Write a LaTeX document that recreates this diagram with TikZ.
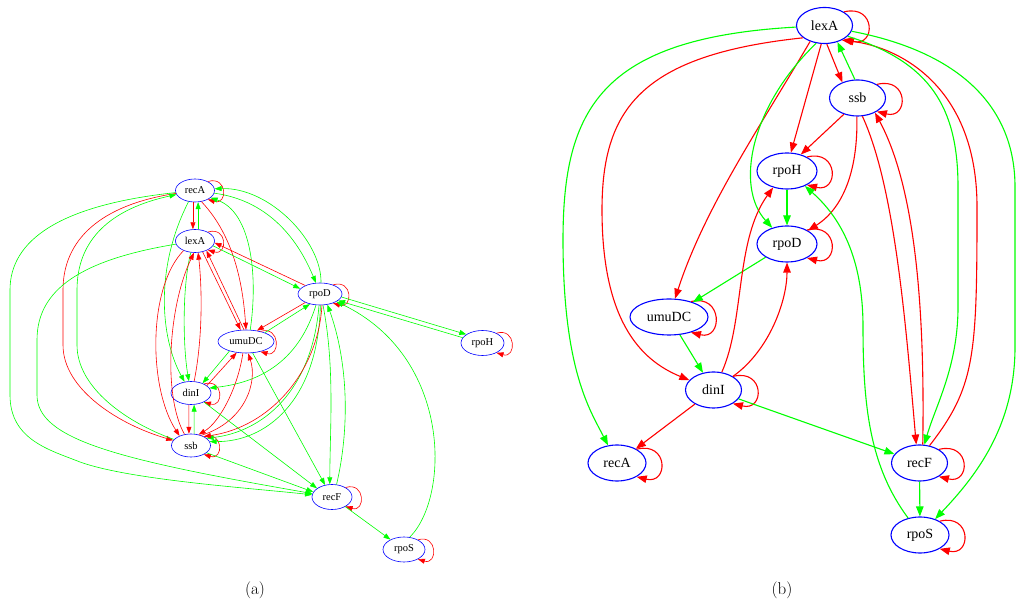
\documentclass[tikz,border=0pt]{standalone}
\usepackage{fontspec}
\newfontfamily\genefont{Liberation Serif}
\usetikzlibrary{shapes.geometric,arrows.meta}
\definecolor{actgreen}{RGB}{0,255,0}
\definecolor{repred}{RGB}{255,0,0}
\definecolor{nodeblue}{RGB}{0,0,255}
\tikzset{
  gena/.style={ellipse,draw=nodeblue,line width=0.6pt,inner sep=0pt,minimum width=39pt,minimum height=23pt,font=\fontsize{10.5}{12}\genefont},
  genb/.style={ellipse,draw=nodeblue,line width=1.1pt,inner sep=0pt,minimum width=56pt,minimum height=36pt,font=\fontsize{14}{16}\genefont},
  grna/.style={draw=actgreen,line width=0.6pt,-{Triangle[length=7pt,width=5pt]}},
  reda/.style={draw=repred,line width=0.6pt,-{Triangle[length=7pt,width=5pt]}},
  grnb/.style={draw=actgreen,line width=1.1pt,-{Triangle[length=10pt,width=7.5pt]}},
  redb/.style={draw=repred,line width=1.1pt,-{Triangle[length=10pt,width=7.5pt]}}
}
\begin{document}
\begin{tikzpicture}[x=1pt,y=1pt]
\useasboundingbox (0,0) rectangle (1024,607);
\node[gena] (recAa) at (195,416.5) {recA};
\node[gena] (lexAa) at (195,366) {lexA};
\node[gena,minimum width=44pt,minimum height=22pt] (rpoDa) at (320,313) {rpoD};
\node[gena,minimum width=56pt] (umuDCa) at (246,265.5) {umuDC};
\node[gena,minimum width=43pt,minimum height=25pt] (rpoHa) at (482.5,264) {rpoH};
\node[gena,minimum width=40pt] (dinIa) at (191,214) {dinI};
\node[gena] (ssba) at (191,161.5) {ssb};
\node[gena,minimum width=40pt,minimum height=25pt] (recFa) at (332,110) {recF};
\node[gena,minimum width=42pt,minimum height=25pt] (rpoSa) at (404,57.5) {rpoS};
\foreach \g in {recAa,lexAa,rpoDa,umuDCa,rpoHa,dinIa,ssba,recFa,rpoSa}
  \draw[reda] (\g.35) .. controls +(20,6) and +(20,-6) .. (\g.-35);
\draw[reda] (recAa.-100) -- (lexAa.100);
\draw[grna] (lexAa.75) -- (recAa.-75);
\draw[reda] (recAa) .. controls (100,402) and (63,367) .. (63,317) -- (63,262)
  .. controls (63,217) and (120,182) .. (ssba);
\draw[grna] (ssba) .. controls (125,185) and (77,220) .. (77,262) -- (77,317)
  .. controls (77,367) and (110,398) .. (recAa);
\draw[grna] (recAa) .. controls (60,402) and (10,367) .. (10,317) -- (10,212)
  .. controls (10,167) and (50,157) .. (80,145) .. controls (130,127) and (250,119) .. (recFa);
\draw[grna] (lexAa) .. controls (80,347) and (37,317) .. (37,267) -- (37,212)
  .. controls (37,167) and (120,147) .. (recFa);
\draw[grna] (recAa.-120) .. controls (155,340) and (160,270) .. (dinIa.120);
\draw[grna] (lexAa.-110) .. controls (182,320) and (183,260) .. (dinIa.100);
\draw[reda] (dinIa.75) .. controls (203,270) and (202,320) .. (lexAa.-75);
\draw[reda] (lexAa.-140) .. controls (148,320) and (148,220) .. (ssba.140);
\draw[reda] (ssba.120) .. controls (163,210) and (168,300) .. (lexAa.-95);
\draw[reda] (lexAa.-55) -- (umuDCa.115);
\draw[reda] (umuDCa.100) -- (lexAa.-40);
\draw[reda] (recAa.-60) .. controls (235,370) and (243,320) .. (umuDCa.90);
\draw[grna] (umuDCa.70) .. controls (258,330) and (252,395) .. (recAa.-25);
\draw[grna] (recAa.-8) .. controls (280,405) and (305,350) .. (rpoDa.110);
\draw[grna] (rpoDa.85) .. controls (322,365) and (270,420) .. (recAa.5);
\draw[grna] (lexAa.-15) -- (rpoDa.165);
\draw[reda] (rpoDa.150) -- (lexAa.-5);
\draw[reda] (rpoDa.-150) -- (umuDCa.45);
\draw[grna] (umuDCa.25) -- (rpoDa.-135);
\draw[grna] (rpoDa.-8) -- (rpoHa.152);
\draw[grna] (rpoHa.165) -- (rpoDa.-20);
\draw[grna] (rpoDa.-110) .. controls (300,250) and (265,225) .. (dinIa.15);
\draw[grna] (rpoDa.-95) .. controls (312,215) and (262,175) .. (ssba.25);
\draw[grna] (rpoDa.-88) .. controls (318,205) and (265,165) .. (ssba.12);
\draw[reda] (rpoDa.-80) .. controls (318,235) and (270,180) .. (ssba.35);
\draw[grna] (umuDCa.-150) -- (dinIa.40);
\draw[reda] (dinIa.25) -- (umuDCa.-130);
\draw[reda] (umuDCa.-105) .. controls (238,220) and (220,185) .. (ssba.55);
\draw[reda] (ssba.45) .. controls (245,185) and (258,225) .. (umuDCa.-80);
\draw[grna] (umuDCa.-60) -- (recFa.120);
\draw[reda] (dinIa.-100) -- (ssba.100);
\draw[grna] (ssba.75) -- (dinIa.-75);
\draw[grna] (dinIa.-35) -- (recFa.150);
\draw[grna] (ssba.-25) -- (recFa.165);
\draw[grna] (rpoDa.-75) .. controls (335,240) and (330,180) .. (recFa.100);
\draw[grna] (recFa.70) .. controls (350,180) and (348,245) .. (rpoDa.-55);
\draw[grna] (recFa) -- (rpoSa);
\draw[grna] (rpoSa.65) .. controls (450,110) and (452,250) .. (rpoDa.-25);
\node[genb] (lexAb) at (824.5,581.5) {lexA};
\node[genb] (ssbb) at (857.5,509) {ssb};
\node[genb,minimum width=60pt] (rpoHb) at (787,436) {rpoH};
\node[genb,minimum width=60pt] (rpoDb) at (787,363) {rpoD};
\node[genb,minimum width=78pt] (umuDCb) at (669,290) {umuDC};
\node[genb] (dinIb) at (713.5,217) {dinI};
\node[genb,minimum width=58pt] (recAb) at (617,144) {recA};
\node[genb] (recFb) at (919.5,144) {recF};
\node[genb,minimum width=58pt] (rpoSb) at (920,72) {rpoS};
\foreach \g in {lexAb,ssbb,rpoHb,rpoDb,umuDCb,dinIb,recAb,recFb,rpoSb}
  \draw[redb] (\g.35) .. controls +(32,8) and +(32,-8) .. (\g.-35);
\draw[grnb] (lexAb) .. controls (600,569) and (563,497) .. (563,367)
  .. controls (563,237) and (590,197) .. (recAb);
\draw[redb] (lexAb.-150) .. controls (640,552) and (602,497) .. (602,397)
  .. controls (602,287) and (640,247) .. (dinIb);
\draw[redb] (lexAb.-132) .. controls (760,480) and (705,400) .. (umuDCb);
\draw[grnb] (lexAb.-115) .. controls (750,500) and (735,420) .. (rpoDb);
\draw[redb] (lexAb.-100) -- (rpoHb.78);
\draw[redb] (lexAb.-83) -- (ssbb.134);
\draw[grnb] (ssbb.98) -- (lexAb.-52);
\draw[redb] (ssbb.-130) -- (rpoHb.50);
\draw[redb] (ssbb.-92) .. controls (858,440) and (845,400) .. (rpoDb);
\draw[redb] (ssbb.-75) .. controls (895,420) and (906,280) .. (recFb.100);
\draw[redb] (recFb.80) .. controls (925,300) and (915,420) .. (ssbb.-40);
\draw[redb] (recFb.60) .. controls (975,220) and (977,250) .. (977,400)
  .. controls (977,520) and (900,560) .. (lexAb.-40);
\draw[grnb] (lexAb.-25) .. controls (930,545) and (958,500) .. (958,420) -- (958,300)
  .. controls (958,240) and (935,200) .. (recFb.75);
\draw[grnb] (lexAb.-12) .. controls (960,555) and (1015,500) .. (1015,420) -- (1015,260)
  .. controls (1015,180) and (975,130) .. (rpoSb);
\draw[grnb] (rpoHb) -- (rpoDb);
\draw[grnb] (rpoSb.125) .. controls (870,140) and (863,200) .. (863,280)
  .. controls (863,350) and (840,390) .. (rpoHb.-40);
\draw[grnb] (rpoDb) -- (umuDCb);
\draw[grnb] (umuDCb) -- (dinIb);
\draw[redb] (dinIb.65) .. controls (745,287) and (735,367) .. (rpoHb.-130);
\draw[redb] (dinIb.35) .. controls (770,257) and (787,307) .. (rpoDb.-90);
\draw[redb] (dinIb) -- (recAb);
\draw[grnb] (dinIb) -- (recFb);
\draw[grnb] (recFb) -- (rpoSb);
\node[font=\fontsize{17}{20}\selectfont] (capa) at (255,17) {(a)};
\node[font=\fontsize{17}{20}\selectfont] (capb) at (782,17) {(b)};
\end{tikzpicture}
\end{document}
